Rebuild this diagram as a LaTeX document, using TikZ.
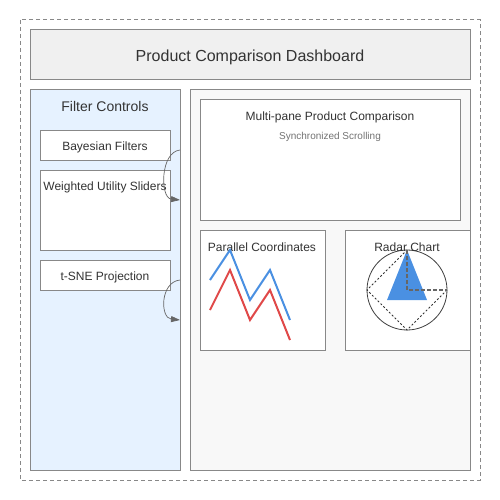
\documentclass[tikz,border=0pt]{standalone}
\usepackage{fontspec}
\setmainfont{Liberation Sans}
\usetikzlibrary{arrows.meta}
\definecolor{edge}{HTML}{888888}
\definecolor{txt}{HTML}{333333}
\definecolor{leftfill}{HTML}{E6F2FF}
\definecolor{rightfill}{HTML}{F8F8F8}
\definecolor{titlefill}{HTML}{F0F0F0}
\definecolor{blueline}{HTML}{4A90E2}
\definecolor{redline}{HTML}{E04848}
\definecolor{arrowc}{HTML}{666666}
\tikzset{
  box/.style={draw=edge, line width=1pt, fill=white},
  lbl/.style={text=txt, inner sep=0pt, anchor=center},
  flow/.style={draw=arrowc, line width=0.7pt, -{Triangle[length=9pt,width=6pt]}}
}
\begin{document}
\begin{tikzpicture}[x=1pt,y=-1pt]
\useasboundingbox (0,0) rectangle (500,500);
\draw[edge, line width=1pt, dash pattern=on 4pt off 3pt] (20,20) rectangle (480,480);
% title
\draw[box, fill=titlefill] (30,30) rectangle (470,80);
\node[lbl, font=\fontsize{16}{18}\selectfont] (title) at (250,57.5) {Product Comparison Dashboard};
% left panel
\draw[box, fill=leftfill] (30,90) rectangle (180,470);
\node[lbl, font=\fontsize{14}{16}\selectfont] (fc) at (105,106) {Filter Controls};
\draw[box] (40,130) rectangle (170,160);
\node[lbl, font=\fontsize{12}{14}\selectfont] (bf) at (105,147) {Bayesian Filters};
\draw[box] (40,170) rectangle (170,250);
\node[lbl, font=\fontsize{12}{14}\selectfont] (wus) at (105,187) {Weighted Utility Sliders};
\draw[box] (40,260) rectangle (170,290);
\node[lbl, font=\fontsize{12}{14}\selectfont] (tsne) at (105,277) {t-SNE Projection};
% right panel
\draw[box, fill=rightfill] (190,90) rectangle (470,470);
\draw[box] (200,100) rectangle (460,220);
\node[lbl, font=\fontsize{12}{14}\selectfont] (mp) at (330,117) {Multi-pane Product Comparison};
\node[lbl, font=\fontsize{10}{12}\selectfont, text=black!55] (ss) at (330,137) {Synchronized Scrolling};
\draw[box] (200,230) rectangle (325,350);
\node[lbl, font=\fontsize{12}{14}\selectfont] (pc) at (262,247) {Parallel Coordinates};
\draw[box] (345,230) rectangle (470,350);
% parallel coordinates lines
\draw[blueline, line width=2pt] (210,280) -- (230,250) -- (250,300) -- (270,270) -- (290,320);
\draw[redline, line width=2pt] (210,310) -- (230,270) -- (250,320) -- (270,290) -- (290,340);
% radar
\coordinate (rc) at (407,290);
\draw[black!75, line width=0.8pt] (rc) circle (40);
\draw[black!80, line width=0.8pt, dash pattern=on 2pt off 2pt] (447,290) -- (407,330) -- (367,290) -- (407,250);
\fill[blueline] (407,250) -- (387,300) -- (427,300) -- cycle;
\draw[black!60, line width=1.5pt, dash pattern=on 4pt off 2pt] (407,250) -- (rc) -- (447,290);
\node[lbl, font=\fontsize{12}{14}\selectfont] (rct) at (407,247) {Radar Chart};
% connectors
\coordinate (a1) at (180,150);
\coordinate (a2) at (180,200);
\coordinate (b1) at (180,280);
\coordinate (b2) at (180,320);
\draw[flow] (a1) .. controls (160,152) and (160,198) .. (a2);
\draw[flow] (b1) .. controls (160,282) and (160,318) .. (b2);
\end{tikzpicture}
\end{document}
